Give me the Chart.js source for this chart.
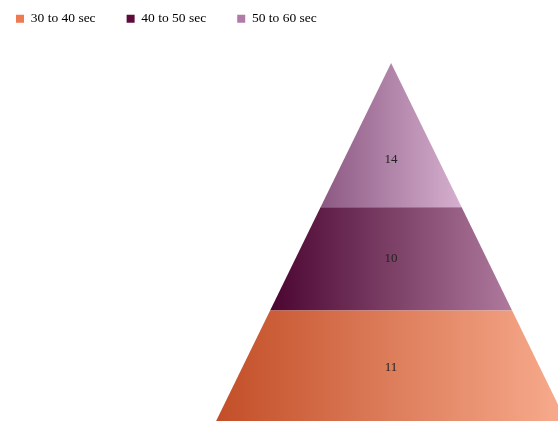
<!DOCTYPE html>
<html lang="en">
<head>
<meta charset="UTF-8">
<title>Pyramid</title>
<script src="https://cdn.jsdelivr.net/npm/chart.js"></script>
<style>
  html, body { margin: 0; padding: 0; background: #fff; }
  #wrap { width: 558px; height: 421px; }
</style>
</head>
<body>
<div id="wrap"><canvas id="myChart"></canvas></div>
<script>
  // categories, bottom layer first
  const categories = ["30 to 40 sec", "40 to 50 sec", "50 to 60 sec"];
  const values = [11, 10, 14];

  // styles
  const legendColors = ["#ee7a4f", "#5e0b3b", "#b07ba9"];
  const leftColors = ["#c24e27", "#4a0530", "#8c5883"];
  const rightColors = ["#f8ac8e", "#ae7a9d", "#d6b0cf"];

  const total = values.reduce((a, b) => a + b, 0);
  const halfWidth = (v) => (total - v) / total;

  // build one closed trapezoid per layer from the cumulative values
  let cum = 0;
  const bands = values.map((v) => {
    const lo = cum, hi = cum + v;
    cum = hi;
    return { lo: lo, hi: hi };
  });

  const datasets = bands.map((b, i) => ({
    label: categories[i],
    data: [
      { x: -halfWidth(b.lo), y: b.lo },
      { x: halfWidth(b.lo), y: b.lo },
      { x: halfWidth(b.hi), y: b.hi },
      { x: -halfWidth(b.hi), y: b.hi },
      { x: -halfWidth(b.lo), y: b.lo },
    ],
    fill: "shape",
    borderWidth: 0,
    pointRadius: 0,
    tension: 0,
    backgroundColor: (ctx) => {
      const chart = ctx.chart;
      if (!chart.chartArea) return legendColors[i];
      const xs = chart.scales.x;
      const g = chart.ctx.createLinearGradient(
        xs.getPixelForValue(-halfWidth(b.lo)), 0,
        xs.getPixelForValue(halfWidth(b.lo)), 0);
      g.addColorStop(0, leftColors[i]);
      g.addColorStop(1, rightColors[i]);
      return g;
    },
  }));

  // value labels in each layer
  const bandLabels = {
    id: "bandLabels",
    afterDatasetsDraw(chart) {
      const c = chart.ctx;
      const xs = chart.scales.x, ys = chart.scales.y;
      c.save();
      c.font = "13px 'Liberation Serif', 'Times New Roman', serif";
      c.fillStyle = "#222";
      c.textAlign = "center";
      c.textBaseline = "middle";
      bands.forEach((b, i) => {
        const top = i === bands.length - 1;
        const v = top ? b.lo + (b.hi - b.lo) / 3 : (b.lo + b.hi) / 2;
        c.fillText(String(values[i]), xs.getPixelForValue(0), ys.getPixelForValue(v));
      });
      c.restore();
    },
  };

  new Chart(document.getElementById("myChart"), {
    type: "line",
    data: { datasets: datasets },
    options: {
      responsive: true,
      maintainAspectRatio: false,
      animation: false,
      layout: { padding: { left: -15, top: -19, right: 0, bottom: 0 } },
      scales: {
        x: { type: "linear", display: false, min: -2.2165, max: 0.9459 },
        y: { type: "linear", display: false, min: 0.289, max: 37.66 },
      },
      plugins: {
        tooltip: { enabled: false },
        legend: {
          position: "top",
          align: "start",
          onClick: null,
          labels: {
            boxWidth: 8,
            boxHeight: 8,
            padding: 31,
            color: "#333",
            font: { family: "'Liberation Serif', 'Times New Roman', serif", size: 13.5 },
            generateLabels: (chart) => categories.map((name, i) => ({
              text: name,
              fillStyle: legendColors[i],
              strokeStyle: legendColors[i],
              lineWidth: 0,
              hidden: false,
              datasetIndex: i,
            })),
          },
        },
      },
    },
    plugins: [bandLabels],
  });
</script>
</body>
</html>
